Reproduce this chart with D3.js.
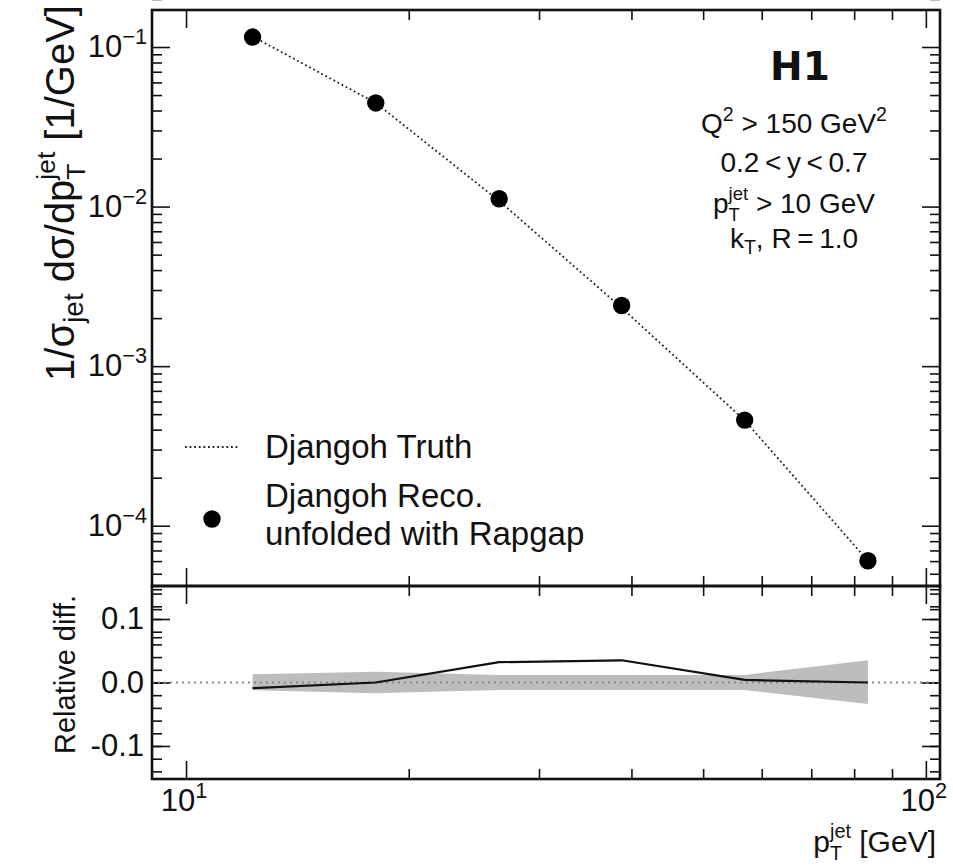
<!DOCTYPE html>
<html lang="en">
<head>
<meta charset="UTF-8">
<title>H1 jet pT unfolding closure</title>
<script src="https://d3js.org/d3.v7.min.js"></script>
<style>
  body { margin: 0; background: #fff; overflow: hidden; }
  svg { display: block; }
  text { font-family: "Liberation Sans", Arial, sans-serif; fill: #111; white-space: pre; }
</style>
</head>
<body>
<script>
// bin centres in jet pT [GeV]
const ptCenters = [12.3, 18.05, 26.5, 38.8, 56.9, 83.5];
// unfolded Djangoh reco (points) and Djangoh truth (dotted line)
const recoValues = [0.1155, 0.0446, 0.0112, 0.00240, 0.000459, 0.0000603];
const truthValues = [0.1165, 0.0446, 0.01085, 0.00232, 0.000457, 0.0000603];
// lower panel: relative difference and its band
const relDiff = [-0.009, 0.0, 0.032, 0.035, 0.004, 0.0];
const bandUp = [0.013, 0.017, 0.012, 0.012, 0.012, 0.035];
const bandDown = [-0.012, -0.017, -0.012, -0.012, -0.012, -0.034];

const xMajor = [10, 100];
const xMinor = [20, 30, 40, 50, 60, 70, 80, 90];
const yTopMajor = [1e-4, 1e-3, 1e-2, 1e-1];
const yTopMinor = [];
[1e-5, 1e-4, 1e-3, 1e-2, 1e-1].forEach(d => { for (let m = 2; m <= 9; m++) yTopMinor.push(d * m); });
const yBotMajor = [-0.1, 0.0, 0.1];
const yBotMinor = d3.range(-14, 15, 2).map(v => v / 100);
const yTopLabels = ["−1", "−2", "−3", "−4"];

const width = 953, height = 868;
const L = 152, R = 940, T = 10, M = 586, B = 779;

const svg = d3.select("body").append("svg")
    .attr("width", width).attr("height", height);

const x = d3.scaleLog().domain([8.995, 104.5]).range([L, R]);
const yTop = d3.scaleLog().domain([4.19e-5, 0.1706]).range([M, T]);
const yBot = d3.scaleLinear().domain([-0.152, 0.152]).range([B, M]);

// text with sub/superscripts: parts = [str, kind]
function rich(sel, parts, size) {
    let cur = 0, pendDx = 0;
    const off = { n: 0, sub: 0.22 * size, sup: -0.42 * size };
    parts.forEach(([s, kind]) => {
        if (kind === "subsup") {
            // stacked: superscript on top, subscript below, same x
            const up = -0.48 * size, dn = 0.27 * size;
            const t1 = sel.append("tspan").attr("font-size", size * 0.66)
                .attr("dy", up - cur).attr("dx", pendDx).text(s[1]);
            const w1 = t1.node().getComputedTextLength();
            const t2 = sel.append("tspan").attr("font-size", size * 0.66)
                .attr("dy", dn - up).attr("dx", -w1).text(s[0]);
            const w2 = t2.node().getComputedTextLength();
            pendDx = Math.max(0, w1 - w2);
            cur = dn;
        } else {
            const t = sel.append("tspan").attr("font-size", kind === "n" ? size : size * 0.7)
                .attr("dy", off[kind] - cur).attr("dx", pendDx).text(s);
            pendDx = 0;
            cur = off[kind];
        }
    });
}

// ticks on every side, pointing inwards
function ticks(axis, values, len, tx, ty) {
    svg.append("g").attr("transform", `translate(${tx},${ty})`)
        .call(axis.tickValues(values).tickSizeInner(-len).tickSizeOuter(0).tickFormat(""))
        .call(g => g.select(".domain").remove())
        .call(g => g.selectAll("line").attr("stroke", "#111").attr("stroke-width", 1.6));
}
[[yTop, yTopMajor, yTopMinor, T, M], [yBot, yBotMajor, yBotMinor, M, B]].forEach(([ys, maj, min, top, bot]) => {
    ticks(d3.axisLeft(ys), maj, 18, L, 0);
    ticks(d3.axisLeft(ys), min, 10, L, 0);
    ticks(d3.axisRight(ys), maj, 18, R, 0);
    ticks(d3.axisRight(ys), min, 10, R, 0);
    ticks(d3.axisTop(x), xMajor, 18, 0, top);
    ticks(d3.axisTop(x), xMinor, 10, 0, top);
    ticks(d3.axisBottom(x), xMajor, 18, 0, bot);
    ticks(d3.axisBottom(x), xMinor, 10, 0, bot);
});

// ----- upper panel -----
svg.append("path")
    .datum(ptCenters.map((p, i) => [p, truthValues[i]]))
    .attr("fill", "none").attr("stroke", "#222").attr("stroke-width", 1.8)
    .attr("stroke-dasharray", "1.8,2.8")
    .attr("d", d3.line().x(d => x(d[0])).y(d => yTop(d[1])));

svg.append("g").selectAll("circle")
    .data(ptCenters.map((p, i) => [p, recoValues[i]]))
    .join("circle")
    .attr("cx", d => x(d[0])).attr("cy", d => yTop(d[1]))
    .attr("r", 8.7).attr("fill", "#000");

// ----- lower panel -----
svg.append("path")
    .datum(ptCenters.map((p, i) => [p, bandDown[i], bandUp[i]]))
    .attr("fill", "#bdbdbd")
    .attr("d", d3.area().x(d => x(d[0])).y0(d => yBot(d[1])).y1(d => yBot(d[2])));

svg.append("line")
    .attr("x1", L).attr("x2", R).attr("y1", yBot(0)).attr("y2", yBot(0))
    .attr("stroke", "#888").attr("stroke-width", 2).attr("stroke-dasharray", "2,4");

svg.append("path")
    .datum(ptCenters.map((p, i) => [p, relDiff[i]]))
    .attr("fill", "none").attr("stroke", "#111").attr("stroke-width", 2.2)
    .attr("d", d3.line().x(d => x(d[0])).y(d => yBot(d[1])));

// frames
[[T, M], [M, B]].forEach(([a, b]) => {
    svg.append("rect").attr("x", L).attr("y", a).attr("width", R - L).attr("height", b - a)
        .attr("fill", "none").attr("stroke", "#111").attr("stroke-width", 2.6);
});

// ----- tick labels -----
const fs = 31;
yTopMajor.slice().reverse().forEach((v, i) => {
    const t = svg.append("text").attr("x", L - 5).attr("y", yTop(v) + 10)
        .attr("text-anchor", "end");
    rich(t, [["10", "n"], [yTopLabels[i], "sup"]], fs);
});
yBotMajor.forEach(v => {
    svg.append("text").attr("x", L - 8).attr("y", yBot(v) + 10)
        .attr("text-anchor", "end").attr("font-size", fs)
        .text(v === 0 ? "0.0" : d3.format(".1f")(v).replace("−", "-"));
});
xMajor.forEach((v, i) => {
    const t = svg.append("text").attr("x", x(v) - 2).attr("y", 811)
        .attr("text-anchor", "middle");
    rich(t, [["10", "n"], [String(i + 1), "sup"]], fs);
});

// ----- axis titles -----
const yl = svg.append("text").attr("transform", "translate(74,5) rotate(-90)")
    .attr("text-anchor", "end");
rich(yl, [["1/σ", "n"], ["jet", "sub"], [" dσ/dp", "n"], [["T", "jet"], "subsup"], [" [1/GeV]", "n"]], 40);

svg.append("text").attr("transform", `translate(75,${(M + B) / 2 - 8}) rotate(-90)`)
    .attr("text-anchor", "middle").attr("font-size", 29).text("Relative diff.");

const xl = svg.append("text").attr("x", 936).attr("y", 852).attr("text-anchor", "end");
rich(xl, [["p", "n"], [["T", "jet"], "subsup"], [" [GeV]", "n"]], 30);

// ----- annotations -----
svg.append("text").attr("x", 800).attr("y", 80).attr("text-anchor", "middle")
    .style("font-family", "'DejaVu Sans', sans-serif").attr("font-weight", "bold")
    .attr("font-size", 39).text("H1");

const ann = [
    { y: 133, parts: [["Q", "n"], ["2", "sup"], [" > 150 GeV", "n"], ["2", "sup"]] },
    { y: 172, parts: [["0.2\u2009<\u2009y\u2009<\u20090.7", "n"]] },
    { y: 213, parts: [["p", "n"], [["T", "jet"], "subsup"], [" > 10 GeV", "n"]] },
    { y: 248, parts: [["k", "n"], ["T", "sub"], [", R\u2009=\u20091.0", "n"]] }
];
ann.forEach(a => {
    const t = svg.append("text").attr("x", 794).attr("y", a.y).attr("text-anchor", "middle");
    rich(t, a.parts, 28);
});

// ----- legend -----
svg.append("line").attr("x1", 185).attr("x2", 238).attr("y1", 447).attr("y2", 447)
    .attr("stroke", "#222").attr("stroke-width", 1.8).attr("stroke-dasharray", "1.8,2.8");
svg.append("text").attr("x", 265).attr("y", 458).attr("font-size", 33).text("Djangoh Truth");
svg.append("circle").attr("cx", 212).attr("cy", 519).attr("r", 8.7).attr("fill", "#000");
svg.append("text").attr("x", 265).attr("y", 507).attr("font-size", 33).text("Djangoh Reco.");
svg.append("text").attr("x", 265).attr("y", 545).attr("font-size", 33).text("unfolded with Rapgap");
</script>
</body>
</html>
